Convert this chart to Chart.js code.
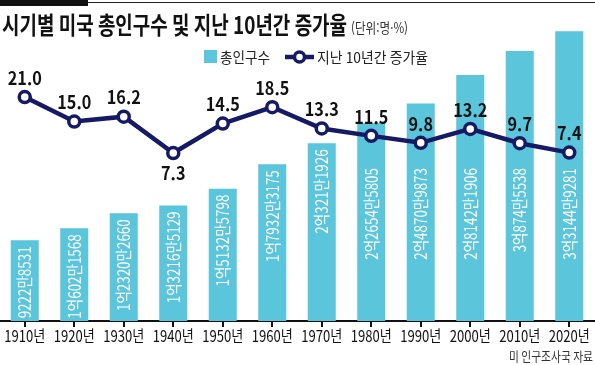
<!DOCTYPE html>
<html lang="ko">
<head>
<meta charset="utf-8">
<script src="https://cdn.jsdelivr.net/npm/chart.js@4/dist/chart.umd.min.js"></script>
<style>
    html, body { margin: 0; padding: 0; background: #fff; }
    #wrap { position: relative; width: 595px; height: 365px; }
</style>
</head>
<body>
<div id="wrap"><canvas id="myChart" width="595" height="365"></canvas></div>
<script>
const years = ['1910년', '1920년', '1930년', '1940년', '1950년', '1960년', '1970년', '1980년', '1990년', '2000년', '2010년', '2020년'];
const population = [92228531, 106021568, 123202660, 132165129, 151325798, 179323175, 203211926, 226545805, 248709873, 281421906, 308745538, 331449281];
const growthRate = [21.0, 15.0, 16.2, 7.3, 14.5, 18.5, 13.3, 11.5, 9.8, 13.2, 9.7, 7.4];

const BAR_COLOR = '#5bc5dc';
const LINE_COLOR = '#161a64';
const KR = '"Noto Sans CJK KR", "Noto Sans", sans-serif';

// 92228531 -> 9222만8531, 106021568 -> 1억602만1568
function formatKorean(n) {
    const eok = Math.floor(n / 100000000);
    const man = Math.floor((n % 100000000) / 10000);
    const rest = n % 10000;
    return (eok ? eok + '억' : '') + man + '만' + rest;
}

// draw text squeezed to a given width
function fitText(ctx, text, x, y, width, align) {
    const w = ctx.measureText(text).width;
    const sx = width / w;
    ctx.save();
    ctx.translate(x, y);
    ctx.scale(sx, 1);
    ctx.textAlign = align || 'left';
    ctx.fillText(text, 0, 0);
    ctx.restore();
}

const labelsPlugin = {
    id: 'labels',
    afterDatasetsDraw(chart) {
        const ctx = chart.ctx;
        const bars = chart.getDatasetMeta(0).data;
        const points = chart.getDatasetMeta(1).data;

        // population values inside bars, rotated
        ctx.save();
        ctx.fillStyle = '#fff';
        ctx.font = '17px ' + KR;
        ctx.textBaseline = 'middle';
        bars.forEach((bar, i) => {
            let top = bar.y + 6;
            if (top < 140) top = 168;
            ctx.save();
            ctx.translate(bar.x, top);
            ctx.rotate(-Math.PI / 2);
            ctx.scale(0.79, 1);
            ctx.textAlign = 'right';
            ctx.fillText(formatKorean(population[i]), 0, 0);
            ctx.restore();
        });
        ctx.restore();

        // growth rate values near points
        ctx.save();
        ctx.fillStyle = '#111';
        ctx.font = 'bold 18px ' + KR;
        ctx.textBaseline = 'middle';
        points.forEach((pt, i) => {
            const v = growthRate[i];
            const prev = i > 0 ? growthRate[i - 1] : v;
            const next = i < growthRate.length - 1 ? growthRate[i + 1] : v;
            const below = Math.min(prev, next) - v > 3;
            ctx.save();
            ctx.translate(pt.x, below ? pt.y + 20 : pt.y - 19);
            ctx.scale(0.9, 1);
            ctx.textAlign = 'center';
            ctx.fillText(v.toFixed(1), 0, 0);
            ctx.restore();
        });
        ctx.restore();
    },
    afterDraw(chart) {
        const ctx = chart.ctx;
        const xScale = chart.scales.x;

        // x tick labels
        ctx.save();
        ctx.fillStyle = '#111';
        ctx.font = '16px ' + KR;
        ctx.textBaseline = 'middle';
        years.forEach((y, i) => {
            fitText(ctx, y, xScale.getPixelForValue(i), 336, 41, 'center');
        });
        ctx.restore();

        // top rule
        ctx.save();
        ctx.fillStyle = '#111';
        ctx.fillRect(0, 0, 88, 6);
        ctx.strokeStyle = '#222';
        ctx.lineWidth = 1;
        ctx.beginPath();
        ctx.moveTo(88, 2.5);
        ctx.lineTo(595, 2.5);
        ctx.stroke();

        // title
        ctx.fillStyle = '#111';
        ctx.textBaseline = 'middle';
        ctx.font = 'bold 24px ' + KR;
        fitText(ctx, '시기별 미국 총인구수 및 지난 10년간 증가율', 2, 25, 345);
        ctx.font = '14px ' + KR;
        ctx.fillStyle = '#333';
        fitText(ctx, '(단위:명·%)', 351, 28, 57);

        // legend
        ctx.fillStyle = BAR_COLOR;
        ctx.fillRect(204, 50, 13, 13);
        ctx.fillStyle = '#222';
        ctx.font = '15px ' + KR;
        fitText(ctx, '총인구수', 220, 57, 50);
        ctx.strokeStyle = LINE_COLOR;
        ctx.lineWidth = 4.5;
        ctx.beginPath();
        ctx.moveTo(285, 57);
        ctx.lineTo(314, 57);
        ctx.stroke();
        ctx.beginPath();
        ctx.arc(299.5, 57, 5, 0, Math.PI * 2);
        ctx.fillStyle = '#fff';
        ctx.fill();
        ctx.lineWidth = 3.5;
        ctx.stroke();
        ctx.fillStyle = '#222';
        fitText(ctx, '지난 10년간 증가율', 317, 57, 111);

        // source
        ctx.fillStyle = '#333';
        ctx.font = '13px ' + KR;
        fitText(ctx, '미 인구조사국 자료', 593, 356, 84, 'right');
        ctx.restore();
    }
};

const ctx = document.getElementById('myChart').getContext('2d');
const chart = new Chart(ctx, {
    type: 'bar',
    data: {
        labels: years,
        datasets: [
            {
                type: 'bar',
                label: '총인구수',
                data: population,
                backgroundColor: BAR_COLOR,
                barPercentage: 0.566,
                categoryPercentage: 1,
                yAxisID: 'y',
                order: 1
            },
            {
                type: 'line',
                label: '지난 10년간 증가율',
                data: growthRate,
                borderColor: LINE_COLOR,
                borderWidth: 4.5,
                pointRadius: 5.5,
                pointBorderWidth: 3.5,
                pointBackgroundColor: '#fff',
                pointBorderColor: LINE_COLOR,
                tension: 0,
                yAxisID: 'y2',
                order: 0
            }
        ]
    },
    options: {
        responsive: false,
        animation: false,
        layout: { autoPadding: false, padding: { top: 20, bottom: 38, left: 0, right: 1 } },
        plugins: {
            legend: { display: false },
            title: { display: false },
            tooltip: { enabled: false }
        },
        scales: {
            x: {
                offset: true,
                border: { display: true, color: '#111', width: 2 },
                grid: {
                    display: true,
                    offset: false,
                    drawOnChartArea: false,
                    drawTicks: true,
                    tickLength: 6,
                    color: '#111',
                    lineWidth: 2
                },
                ticks: { display: false }
            },
            y: {
                display: false,
                min: 0,
                max: 344200000
            },
            y2: {
                display: false,
                min: -33.79,
                max: 39.84
            }
        }
    },
    plugins: [labelsPlugin]
});
</script>
</body>
</html>
